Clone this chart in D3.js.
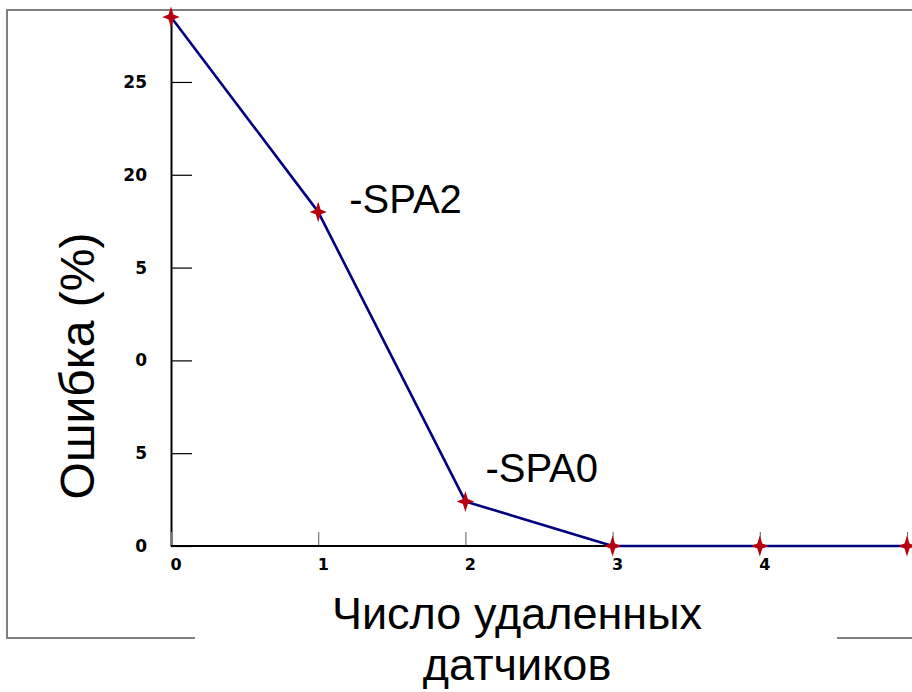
<!DOCTYPE html>
<html>
<head>
<meta charset="utf-8">
<script src="https://cdn.jsdelivr.net/npm/d3@7/dist/d3.min.js"></script>
<style>
  html, body { margin: 0; padding: 0; background: #fff; }
  svg { display: block; }
</style>
</head>
<body>
<div id="chart"></div>
<script>
// Ошибка классификации в зависимости от числа удалённых датчиков
const removedSensors = [0, 1, 2, 3, 4, 5];
const errorPercent   = [28.5, 18.0, 2.4, 0, 0, 0];
const yTickValues    = [0, 5, 10, 15, 20, 25];
const yTickLabels    = ["0", "5", "0", "5", "20", "25"];
const xTickValues    = [0, 1, 2, 3, 4, 5];
const xTickLabels    = ["0", "1", "2", "3", "4", ""];
const annotations    = [
  { index: 1, text: "-SPA2", dx: 31, dy: 1 },
  { index: 2, text: "-SPA0", dx: 20, dy: -19 }
];
const xTitleLines    = ["Число удаленных", "датчиков"];
const yTitle         = "Ошибка (%)";
const yTop = 28.5;

const width = 912, height = 692;
const svg = d3.select("#chart").append("svg")
  .attr("width", width).attr("height", height);

// outer frame
svg.append("rect")
  .attr("x", 7).attr("y", 10)
  .attr("width", 960).attr("height", 628)
  .attr("fill", "none")
  .attr("stroke", "#808080")
  .attr("stroke-width", 2);

const x = d3.scaleLinear().domain([0, 5]).range([171, 907]);
const y = d3.scaleLinear().domain([0, yTop]).range([546, 17]);

// y axis: ticks pointing into the plot
const yAxis = d3.axisRight(y)
  .tickValues(yTickValues)
  .tickSize(21)
  .tickSizeOuter(0)
  .tickFormat(() => "");
const gy = svg.append("g").attr("transform", `translate(${x(0)},0)`).call(yAxis);
gy.select(".domain").attr("stroke", "#000").attr("stroke-width", 2);
gy.selectAll(".tick line").attr("stroke", "#000").attr("stroke-width", 1.2);

svg.append("g").selectAll("text")
  .data(yTickValues)
  .join("text")
  .attr("x", 147)
  .attr("y", d => y(d) + 6)
  .attr("text-anchor", "end")
  .attr("font-family", "DejaVu Sans")
  .attr("font-weight", "bold")
  .attr("font-size", 17)
  .attr("fill", "#000")
  .text((d, i) => yTickLabels[i]);

// x axis: ticks pointing up
const xAxis = d3.axisTop(x)
  .tickValues(xTickValues)
  .tickSize(14)
  .tickSizeOuter(0)
  .tickFormat(() => "");
const gx = svg.append("g").attr("transform", `translate(0,${y(0)})`).call(xAxis);
gx.select(".domain").remove();
gx.selectAll(".tick line").attr("stroke", "#777").attr("stroke-width", 1.2);
svg.append("line")
  .attr("x1", x(0)).attr("x2", width)
  .attr("y1", y(0)).attr("y2", y(0))
  .attr("stroke", "#000").attr("stroke-width", 2);

svg.append("g").selectAll("text")
  .data(xTickValues)
  .join("text")
  .attr("x", d => x(d) + 5)
  .attr("y", y(0) + 24)
  .attr("text-anchor", "middle")
  .attr("font-family", "DejaVu Sans")
  .attr("font-weight", "bold")
  .attr("font-size", 16)
  .attr("fill", "#000")
  .text((d, i) => xTickLabels[i]);

// data line
const line = d3.line()
  .x((d, i) => x(removedSensors[i]))
  .y(d => y(d));
svg.append("path")
  .datum(errorPercent)
  .attr("d", line)
  .attr("fill", "none")
  .attr("stroke", "#000080")
  .attr("stroke-width", 2.6)
  .attr("stroke-linejoin", "round");

// four-pointed star marker
const star4 = {
  draw(ctx, size) {
    const s = Math.sqrt(size);
    const rx = s * 0.6, ry = s * 0.72, r = s * 0.17;
    ctx.moveTo(0, -ry);
    ctx.lineTo(r, -r);
    ctx.lineTo(rx, 0);
    ctx.lineTo(r, r);
    ctx.lineTo(0, ry);
    ctx.lineTo(-r, r);
    ctx.lineTo(-rx, 0);
    ctx.lineTo(-r, -r);
    ctx.closePath();
  }
};
svg.append("g").selectAll("path")
  .data(errorPercent)
  .join("path")
  .attr("transform", (d, i) => `translate(${x(removedSensors[i])},${y(d)})`)
  .attr("d", d3.symbol().type(star4).size(210))
  .attr("fill", "#b8000e");

// point annotations
svg.append("g").selectAll("text")
  .data(annotations)
  .join("text")
  .attr("x", d => x(removedSensors[d.index]) + d.dx)
  .attr("y", d => y(errorPercent[d.index]) + d.dy)
  .attr("font-family", "Liberation Sans, Arial, sans-serif")
  .attr("font-size", 40)
  .attr("fill", "#000")
  .text(d => d.text);

// y axis title
svg.append("text")
  .attr("transform", `translate(94,366) rotate(-90)`)
  .attr("text-anchor", "middle")
  .attr("font-family", "Liberation Sans, Arial, sans-serif")
  .attr("font-size", 48)
  .attr("fill", "#000")
  .text(yTitle);

// x axis title on a white plate
svg.append("rect")
  .attr("x", 195).attr("y", 588)
  .attr("width", 642).attr("height", 104)
  .attr("fill", "#fff");
svg.append("g").selectAll("text")
  .data(xTitleLines)
  .join("text")
  .attr("x", 517)
  .attr("y", (d, i) => 629 + i * 51)
  .attr("text-anchor", "middle")
  .attr("font-family", "Liberation Sans, Arial, sans-serif")
  .attr("font-size", 45)
  .attr("fill", "#000")
  .text(d => d);
</script>
</body>
</html>
